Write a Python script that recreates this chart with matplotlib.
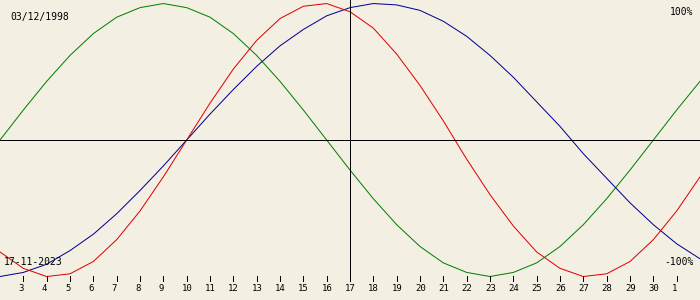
import matplotlib
matplotlib.use('Agg')
import matplotlib.pyplot as plt

# days of month shown along the bottom (Nov 2 .. Dec 2)
days = list(range(2, 33))
tick_labels = [str(d) if d <= 30 else str(d - 30) for d in range(3, 32)]

# values in percent, one per day
physical = [-82, -94, -100, -98, -89, -73, -52, -27, 0, 27, 52, 73, 89, 98, 100, 94,
            82, 63, 40, 14, -14, -40, -63, -82, -94, -100, -98, -89, -73, -52, -27]
emotional = [0, 22, 43, 62, 78, 90, 97, 100, 97, 90, 78, 62, 43, 22, 0, -22,
             -43, -62, -78, -90, -97, -100, -97, -90, -78, -62, -43, -22, 0, 22, 43]
intellectual = [-100, -97, -91, -81, -69, -54, -37, -19, 0, 19, 37, 54, 69, 81, 91, 97,
                100, 99, 95, 87, 76, 62, 46, 28, 10, -10, -28, -46, -62, -76, -87]

birth_label = '03/12/1998'
target_label = '17-11-2023'
target_day = 17

bg = '#f3efe3'
font = 'DejaVu Sans Mono'

fig = plt.figure(figsize=(7, 3), dpi=100, facecolor=bg)
ax = fig.add_axes([0, 0, 1, 1])
ax.set_facecolor(bg)
ax.set_xlim(2, 32)
ax.set_ylim(-117.2, 102.6)
ax.axis('off')

lw = 0.6
cw = 0.72
ax.plot(days, emotional, color='#008000', lw=cw)
ax.plot(days, intellectual, color='#000090', lw=cw)
ax.plot(days, physical, color='#e00000', lw=cw)

# axes lines
ax.axhline(0, color='black', lw=lw, antialiased=False)
ax.plot([target_day, target_day], [102.6, -102.6], color='black', lw=lw, antialiased=False)

# day ticks
for d in range(3, 32):
    ax.plot([d, d], [-99.5, -103.2], color='black', lw=lw, antialiased=False)
px = 30 / 700.0
for d, lab in zip(range(3, 32), tick_labels):
    ax.text(d - 5 * px, -108.8, lab, fontsize=6.5, family=font,
            ha='left', va='center', color='black')

ax.text(10 * px + 2, 90.1, birth_label, fontsize=7, family=font,
        ha='left', va='center', color='black')
ax.text(32 - 7 * px, 93.8, '100%', fontsize=7, family=font,
        ha='right', va='center', color='black')
ax.text(2 + 4 * px, -89.4, target_label, fontsize=7, family=font,
        ha='left', va='center', color='black')
ax.text(32 - 6 * px, -89.4, '-100%', fontsize=7, family=font,
        ha='right', va='center', color='black')

fig.savefig('out.png', dpi=100, facecolor=bg)
